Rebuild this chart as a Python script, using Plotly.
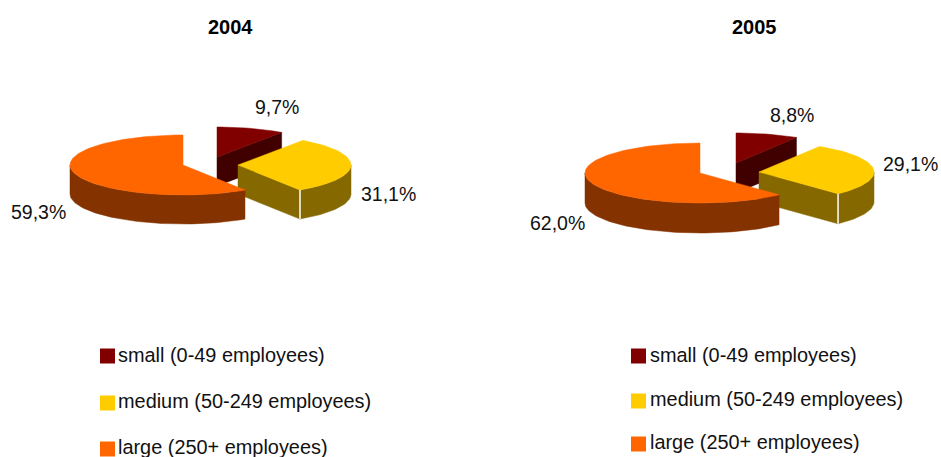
import math
import plotly.graph_objects as go

categories = ["small (0-49 employees)", "medium (50-249 employees)", "large (250+ employees)"]
years = ["2004", "2005"]
values_2004 = [9.7, 31.1, 59.3]
values_2005 = [8.8, 29.1, 62.0]
labels_2004 = ["9,7%", "31,1%", "59,3%"]
labels_2005 = ["8,8%", "29,1%", "62,0%"]

top_colors = ["#800000", "#ffcc00", "#ff6600"]
wall_colors = ["#400000", "#856800", "#843200"]
FONT = "Liberation Sans, Arial, sans-serif"
TEXT = "#111111"

# Layout of each exploded pie: slice apex positions in page pixels, radii and depth
pies = [
    dict(values=values_2004, labels=labels_2004, title=years[0], title_x=230, title_y=27,
         apex=[(217, 157), (238, 165), (183, 165)], rx=113, ry=30, depth=29,
         label_pos=[(277, 107), (388, 194), (38, 212)],
         sq_x=107.5, text_x=116, legend_y=[356, 403, 449], text_y=[355, 401, 447]),
    dict(values=values_2005, labels=labels_2005, title=years[1], title_x=754, title_y=27,
         apex=[(736, 163), (759, 172), (700, 173)], rx=115, ry=30, depth=30,
         label_pos=[(792, 115), (910, 164), (557, 223)],
         sq_x=638.5, text_x=648, legend_y=[356, 401, 444], text_y=[355, 398.5, 442]),
]


def point(c, rx, ry, deg):
    a = math.radians(deg)
    return c[0] + rx * math.sin(a), c[1] - ry * math.cos(a)


def arc(c, rx, ry, a0, a1):
    n = max(2, int(abs(a1 - a0) / 2) + 1)
    return [point(c, rx, ry, a0 + (a1 - a0) * i / (n - 1)) for i in range(n)]


def poly(fig, pts, color):
    fig.add_trace(go.Scatter(x=[p[0] for p in pts] + [pts[0][0]],
                             y=[p[1] for p in pts] + [pts[0][1]],
                             mode="lines", fill="toself", fillcolor=color,
                             line=dict(color=color, width=0.5), hoverinfo="skip"))


def down(pts, d):
    return [(x, y + d) for x, y in pts]


fig = go.Figure()
annotations = []

for pie in pies:
    total = sum(pie["values"])
    bounds = [0]
    for v in pie["values"]:
        bounds.append(bounds[-1] + v / total * 360)
    rx, ry, d = pie["rx"], pie["ry"], pie["depth"]

    # painter's order: small, medium, large
    for i in range(3):
        a0, a1 = bounds[i], bounds[i + 1]
        c = pie["apex"][i]
        wall, top = wall_colors[i], top_colors[i]
        # front-facing radial wall at the slice's trailing edge
        if i in (0, 1):
            edge = point(c, rx, ry, a1)
            poly(fig, [c, edge, (edge[0], edge[1] + d), (c[0], c[1] + d)], wall)
        # outer rim, only the part on the near side of the ellipse
        lo, hi = max(a0, 90), min(a1, 270)
        if lo < hi:
            rim = arc(c, rx, ry, lo, hi)
            poly(fig, rim + down(rim, d)[::-1], wall)
        poly(fig, [c] + arc(c, rx, ry, a0, a1), top)
        # thin light seam at the medium slice's front corner
        if i == 1:
            edge = point(c, rx, ry, a1)
            fig.add_trace(go.Scatter(x=[edge[0], edge[0]], y=[edge[1], edge[1] + d],
                                     mode="lines", line=dict(color="#ffffff", width=1.5),
                                     hoverinfo="skip"))

    for (x, y), text in zip(pie["label_pos"], pie["labels"]):
        annotations.append(dict(x=x, y=y, text=text, showarrow=False,
                                font=dict(family=FONT, size=19.5, color=TEXT)))
    annotations.append(dict(x=pie["title_x"], y=pie["title_y"], text="<b>%s</b>" % pie["title"],
                            showarrow=False, font=dict(family=FONT, size=20, color="#000000")))

    fig.add_trace(go.Scatter(x=[pie["sq_x"]] * 3, y=pie["legend_y"], mode="markers",
                             marker=dict(symbol="square", size=15, color=top_colors, line=dict(width=0)),
                             hoverinfo="skip"))
    for y, text in zip(pie["text_y"], categories):
        annotations.append(dict(x=pie["text_x"], y=y, text=text, showarrow=False, xanchor="left",
                                font=dict(family=FONT, size=19.9, color=TEXT)))

fig.update_layout(
    width=941, height=457, margin=dict(l=0, r=0, t=0, b=0),
    paper_bgcolor="white", plot_bgcolor="white", showlegend=False,
    xaxis=dict(range=[0, 941], visible=False, fixedrange=True),
    yaxis=dict(range=[457, 0], visible=False, fixedrange=True),
    annotations=annotations,
)
fig.write_html("out.html", config={"displayModeBar": False},
               post_script="document.body.style.margin='0';document.body.style.overflow='hidden';")
